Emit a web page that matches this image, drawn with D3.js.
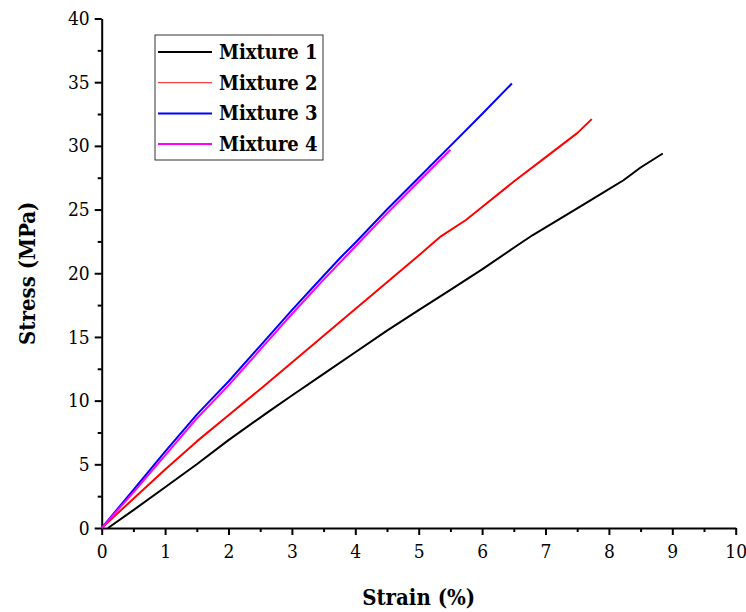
<!DOCTYPE html>
<html>
<head>
<meta charset="utf-8">
<script src="https://cdn.jsdelivr.net/npm/d3@7"></script>
<style>
  body { margin: 0; background: #fff; }
</style>
</head>
<body>
<svg id="chart" width="746" height="612"></svg>
<script>
const seriesNames = ["Mixture 1", "Mixture 2", "Mixture 3", "Mixture 4"];
const seriesColors = ["#000000", "#ff0000", "#0000ff", "#ff00ff"];

const mix1Strain = [0.1, 0.5, 1, 1.5, 2, 2.65, 3, 3.5, 4, 4.5, 5, 5.5, 6, 6.5, 6.8, 7.5, 8, 8.23, 8.5, 8.85];
const mix1Stress = [0, 1.4, 3.2, 5.0, 6.9, 9.2, 10.4, 12.1, 13.8, 15.5, 17.1, 18.7, 20.3, 22.0, 23.0, 25.1, 26.6, 27.3, 28.3, 29.4];

const mix2Strain = [0, 0.5, 1, 1.5, 2, 2.5, 3, 3.5, 4, 4.5, 5, 5.35, 5.75, 6, 6.5, 7, 7.5, 7.73];
const mix2Stress = [0, 2.3, 4.6, 6.8, 8.85, 10.9, 13.0, 15.1, 17.2, 19.3, 21.4, 22.9, 24.2, 25.2, 27.2, 29.1, 31.0, 32.1];

const mix3Strain = [0, 0.5, 1, 1.5, 1.71, 2, 2.5, 3, 3.5, 3.76, 4, 4.5, 5, 5.5, 6, 6.47];
const mix3Stress = [0, 3.0, 6.0, 8.9, 10.0, 11.5, 14.3, 17.1, 19.8, 21.2, 22.4, 25.0, 27.5, 30.0, 32.5, 34.9];

const mix4Strain = [0, 0.5, 1, 1.5, 2, 2.5, 3, 3.5, 4, 4.5, 5, 5.5];
const mix4Stress = [0, 2.8, 5.7, 8.6, 11.2, 14.0, 16.8, 19.5, 22.1, 24.7, 27.2, 29.7];

const xTicks = [0, 1, 2, 3, 4, 5, 6, 7, 8, 9, 10];
const yTicks = [0, 5, 10, 15, 20, 25, 30, 35, 40];

const allSeries = [
  { name: seriesNames[0], color: seriesColors[0], xs: mix1Strain, ys: mix1Stress },
  { name: seriesNames[1], color: seriesColors[1], xs: mix2Strain, ys: mix2Stress },
  { name: seriesNames[2], color: seriesColors[2], xs: mix3Strain, ys: mix3Stress },
  { name: seriesNames[3], color: seriesColors[3], xs: mix4Strain, ys: mix4Stress }
];

const serif = '"DejaVu Serif Condensed", "DejaVu Serif", serif';

function serifText(sel, size, bold) {
  sel.style("font-family", serif)
    .style("font-stretch", "condensed")
    .style("font-size", size + "px")
    .style("font-weight", bold ? "bold" : "normal");
}

const svg = d3.select("#chart");
const plotLeft = 101.7, plotRight = 735.7, plotTop = 18.5, plotBottom = 528;

const x = d3.scaleLinear().domain([0, 10]).range([plotLeft, plotRight]);
const y = d3.scaleLinear().domain([0, 40]).range([plotBottom, plotTop]);

// minor ticks
svg.append("g")
  .attr("transform", `translate(0,${plotBottom})`)
  .call(d3.axisBottom(x).tickValues(d3.range(0.5, 10, 1)).tickSize(4).tickFormat(""))
  .call(g => g.select(".domain").remove())
  .call(g => g.selectAll("line").attr("stroke-width", 2));

svg.append("g")
  .attr("transform", `translate(${plotLeft},0)`)
  .call(d3.axisLeft(y).tickValues(d3.range(2.5, 40, 5)).tickSize(4).tickFormat(""))
  .call(g => g.select(".domain").remove())
  .call(g => g.selectAll("line").attr("stroke-width", 2));

// major axes
const xAxis = svg.append("g")
  .attr("transform", `translate(0,${plotBottom})`)
  .call(d3.axisBottom(x).tickValues(xTicks).tickSize(7).tickSizeOuter(0).tickPadding(6));

const yAxis = svg.append("g")
  .attr("transform", `translate(${plotLeft},0)`)
  .call(d3.axisLeft(y).tickValues(yTicks).tickSize(7).tickSizeOuter(0).tickPadding(5));

[xAxis, yAxis].forEach(a => {
  a.attr("font-family", null);
  a.select(".domain").attr("stroke-width", 2);
  a.selectAll(".tick line").attr("stroke-width", 2);
  a.selectAll(".tick text").attr("fill", "#000").call(serifText, 19, false);
});
xAxis.selectAll(".tick text").attr("dy", "0.9em");

// axis titles
svg.append("text")
  .attr("x", (plotLeft + plotRight) / 2)
  .attr("y", 605)
  .attr("text-anchor", "middle")
  .call(serifText, 22, true)
  .text("Strain (%)");

svg.append("text")
  .attr("transform", `translate(35,${(plotTop + plotBottom) / 2}) rotate(-90)`)
  .attr("text-anchor", "middle")
  .call(serifText, 22, true)
  .text("Stress (MPa)");

// lines
const line = d3.line()
  .x(d => x(d[0]))
  .y(d => y(d[1]));

allSeries.forEach(s => {
  svg.append("path")
    .datum(s.xs.map((v, i) => [v, s.ys[i]]))
    .attr("d", line)
    .attr("fill", "none")
    .attr("stroke", s.color)
    .attr("stroke-width", 2)
    .attr("stroke-linejoin", "round");
});

// legend
const legend = svg.append("g").attr("transform", "translate(155,35)");
legend.append("rect")
  .attr("width", 168)
  .attr("height", 125)
  .attr("fill", "#fff")
  .attr("stroke", "#333")
  .attr("stroke-width", 1);

allSeries.forEach((s, i) => {
  const row = legend.append("g").attr("transform", `translate(0,${17 + i * 30.7})`);
  row.append("line")
    .attr("x1", 3).attr("x2", 57)
    .attr("stroke", s.color)
    .attr("stroke-opacity", i === 1 ? 0.75 : 1)
    .attr("stroke-width", i === 1 ? 1.2 : 2);
  row.append("text")
    .attr("x", 64)
    .attr("y", 7)
    .call(serifText, 20, true)
    .text(s.name);
});
</script>
</body>
</html>
